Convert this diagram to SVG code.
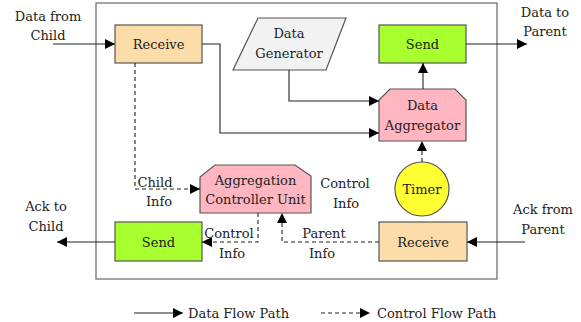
<svg xmlns="http://www.w3.org/2000/svg" width="581" height="322" viewBox="0 0 581 322">
<style>
text{font-family:'DejaVu Serif',serif;font-size:13px;fill:#222;text-anchor:middle}
.box{stroke:#555;stroke-width:1.2}
.ln{fill:none;stroke:#222;stroke-width:1.1}
.dl{fill:none;stroke:#222;stroke-width:1.1;stroke-dasharray:4,3}
</style>
<defs>
<marker id="ah" viewBox="0 0 10 10" refX="10" refY="5" markerWidth="10" markerHeight="10" markerUnits="userSpaceOnUse" orient="auto">
<path d="M0,0 L10,5 L0,10 z" fill="#000"/>
</marker>
</defs>
<rect x="96" y="3" width="401" height="276" fill="none" stroke="#666" stroke-width="1.2"/>
<g id="receive-child">
<rect class="box" x="115" y="25" width="87" height="38" fill="#FCDCA8"/>
<text x="158.5" y="49">Receive</text>
</g>
<g id="data-generator">
<polygon class="box" points="258,18 346,18 326,70 233,70" fill="#F2F2F2"/>
<text x="289" y="38">Data</text>
<text x="289" y="58">Generator</text>
</g>
<g id="send-parent">
<rect class="box" x="379" y="25" width="87" height="38" fill="#A8FF2E"/>
<text x="422.5" y="49">Send</text>
</g>
<g id="data-aggregator">
<polygon class="box" points="390,89 455,89 466,100 466,141 379,141 379,100" fill="#FFB6C1"/>
<text x="422.5" y="110">Data</text>
<text x="422.5" y="130">Aggregator</text>
</g>
<g id="timer">
<circle class="box" cx="422" cy="189" r="27" fill="#FFFF33"/>
<text x="422" y="194">Timer</text>
</g>
<g id="acu">
<polygon class="box" points="215,165 295,165 311,176 311,213 200,213 200,177" fill="#FFB6C1"/>
<text x="255.5" y="185">Aggregation</text>
<text x="255.5" y="204">Controller Unit</text>
</g>
<g id="receive-parent">
<rect class="box" x="379" y="222" width="88" height="39" fill="#FCDCA8"/>
<text x="423" y="247">Receive</text>
</g>
<g id="send-child">
<rect class="box" x="115" y="222" width="87" height="39" fill="#A8FF2E"/>
<text x="158.5" y="247">Send</text>
</g>
<g id="connectors">
<path class="ln" d="M53,44 H115" marker-end="url(#ah)"/>
<path class="ln" d="M202,44 H220 V133 H379" marker-end="url(#ah)"/>
<path class="ln" d="M289,70 V101 H379" marker-end="url(#ah)"/>
<path class="ln" d="M423,89 V63" marker-end="url(#ah)"/>
<path class="ln" d="M466,44 H527" marker-end="url(#ah)"/>
<path class="dl" d="M422,162 V141" marker-end="url(#ah)"/>
<path class="ln" d="M525,242 H467" marker-end="url(#ah)"/>
<path class="ln" d="M115,242 H57" marker-end="url(#ah)"/>
<path class="dl" d="M135,63 V189 H200" marker-end="url(#ah)"/>
<path class="dl" d="M258,213 V242 H202" marker-end="url(#ah)"/>
<path class="dl" d="M379,242 H282 V213" marker-end="url(#ah)"/>
</g>
<g id="labels">
<text x="48" y="21">Data from</text>
<text x="48" y="40">Child</text>
<text x="545" y="17">Data to</text>
<text x="545" y="36">Parent</text>
<text x="46" y="211">Ack to</text>
<text x="46" y="231">Child</text>
<text x="543" y="214">Ack from</text>
<text x="543" y="234">Parent</text>
<text x="155" y="187">Child</text>
<text x="159" y="206">Info</text>
<text x="229" y="238">Control</text>
<text x="232" y="258">Info</text>
<text x="324" y="238">Parent</text>
<text x="322" y="258">Info</text>
<text x="345" y="188">Control</text>
<text x="346" y="208">Info</text>
</g>
<g id="legend">
<path class="ln" d="M134,313 H183" marker-end="url(#ah)"/>
<text x="188" y="318" style="text-anchor:start">Data Flow Path</text>
<path class="dl" d="M321,313 H370" marker-end="url(#ah)"/>
<text x="377" y="318" style="text-anchor:start">Control Flow Path</text>
</g>
</svg>
